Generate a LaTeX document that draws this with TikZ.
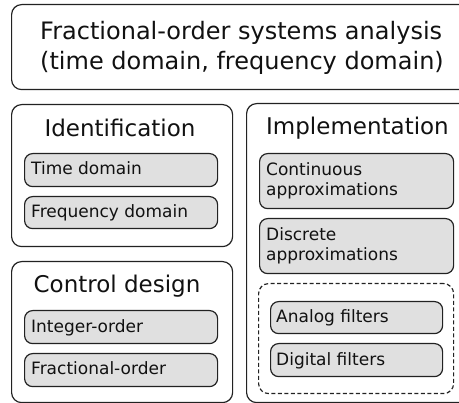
\documentclass[tikz,border=0pt]{standalone}
\usepackage{fontspec}
\setmainfont{DejaVu Sans}
\definecolor{linegray}{HTML}{222222}
\definecolor{itemgray}{HTML}{E0E0E0}
\definecolor{txt}{HTML}{111111}
\begin{document}
\begin{tikzpicture}[x=1pt,y=-1pt,
  frame/.style={draw=linegray, line width=1.2pt, rounded corners=10pt,
    inner sep=0pt, anchor=north west},
  item/.style={draw=linegray, fill=itemgray, line width=1.2pt,
    rounded corners=8pt, inner sep=0pt, anchor=north west},
  group/.style={draw=linegray, line width=1.2pt, dash pattern=on 4pt off 2.5pt,
    rounded corners=10pt, inner sep=0pt, anchor=north west},
  headtxt/.style={anchor=base west, inner sep=0pt, text=txt,
    font=\fontsize{24}{30}\selectfont},
  titletxt/.style={anchor=base, inner sep=0pt, text=txt,
    font=\fontsize{23}{27}\selectfont},
  itemtxt/.style={anchor=base west, inner sep=0pt, text=txt,
    font=\fontsize{17}{19.5}\selectfont},
]
\useasboundingbox (0,0) rectangle (459,403);

% overview box
\node[frame, minimum width=480pt, minimum height=85pt] (head) at (11,4) {};
\node[headtxt] (headA) at (40,40) {Fractional-order systems analysis};
\node[headtxt] (headB) at (40,70) {(time domain, frequency domain)};

% identification
\node[frame, minimum width=221pt, minimum height=142pt] (ident) at (11,104) {};
\node[titletxt] (identT) at (120,137) {Identification};
\node[item, minimum width=193pt, minimum height=33pt] (tdom) at (24,153) {};
\node[itemtxt] (tdomT) at (31,175) {Time domain};
\node[item, minimum width=193pt, minimum height=32pt] (fdom) at (24,196) {};
\node[itemtxt] (fdomT) at (31,217.5) {Frequency domain};

% control design
\node[frame, minimum width=221pt, minimum height=141pt] (ctrl) at (11,261) {};
\node[titletxt] (ctrlT) at (117,293) {Control design};
\node[item, minimum width=193pt, minimum height=33pt] (intord) at (24,310) {};
\node[itemtxt] (intordT) at (31,332.5) {Integer-order};
\node[item, minimum width=193pt, minimum height=33pt] (fracord) at (24,353) {};
\node[itemtxt] (fracordT) at (31,375) {Fractional-order};

% implementation
\node[frame, minimum width=250pt, minimum height=299pt] (impl) at (246,103) {};
\node[titletxt] (implT) at (357.5,135) {Implementation};
\node[item, minimum width=194pt, minimum height=55pt] (cont) at (259,153) {};
\node[itemtxt] (contA) at (266,176) {Continuous};
\node[itemtxt] (contB) at (266,195.5) {approximations};
\node[item, minimum width=194pt, minimum height=55pt] (disc) at (259,218) {};
\node[itemtxt] (discA) at (266,241) {Discrete};
\node[itemtxt] (discB) at (266,260.5) {approximations};
\node[group, minimum width=195pt, minimum height=110pt] (filters) at (258,283) {};
\node[item, minimum width=172pt, minimum height=32pt] (analog) at (270,301) {};
\node[itemtxt] (analogT) at (276,322.5) {Analog filters};
\node[item, minimum width=172pt, minimum height=33pt] (digital) at (270,343) {};
\node[itemtxt] (digitalT) at (276,365.5) {Digital filters};
\end{tikzpicture}
\end{document}
